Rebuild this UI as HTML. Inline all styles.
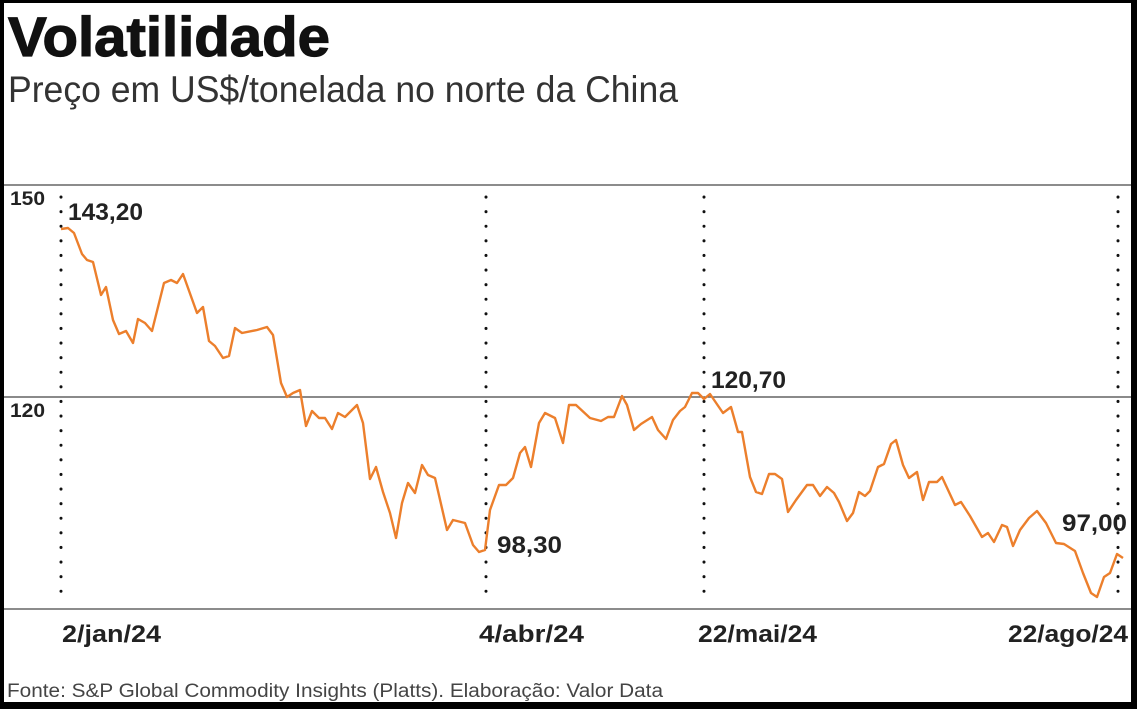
<!DOCTYPE html>
<html><head><meta charset="utf-8"><style>
html,body{margin:0;padding:0;background:#000;}
#c{position:absolute;left:4px;top:3px;width:1127px;height:699px;background:#fff;overflow:hidden;}
</style></head><body>
<div id="c"></div>
<svg width="1137" height="709" style="position:absolute;left:0;top:0" xmlns="http://www.w3.org/2000/svg">
<g font-family="Liberation Sans, sans-serif">
<text x="8" y="56" font-size="56" font-weight="bold" fill="#111" textLength="322" lengthAdjust="spacingAndGlyphs" stroke="#111" stroke-width="1.2">Volatilidade</text>
<text x="8" y="102" font-size="37" fill="#333" textLength="670" lengthAdjust="spacingAndGlyphs">Preço em US$/tonelada no norte da China</text>
<line x1="4" y1="185" x2="1131" y2="185" stroke="#666" stroke-width="1.5"/>
<line x1="4" y1="397" x2="1131" y2="397" stroke="#444" stroke-width="1.2"/>
<line x1="4" y1="609" x2="1131" y2="609" stroke="#666" stroke-width="1.5"/>
<g stroke="#111" stroke-width="3" stroke-dasharray="0.1 14.5" stroke-linecap="round">
<line x1="61" y1="197" x2="61" y2="605"/>
<line x1="486" y1="197" x2="486" y2="605"/>
<line x1="704" y1="197" x2="704" y2="605"/>
<line x1="1118" y1="197" x2="1118" y2="605"/>
</g>
<text x="10" y="205" font-size="19" font-weight="bold" fill="#222" textLength="35" lengthAdjust="spacingAndGlyphs">150</text>
<text x="10" y="417" font-size="19" font-weight="bold" fill="#222" textLength="35" lengthAdjust="spacingAndGlyphs">120</text>
<polyline fill="none" stroke="#ec7f2c" stroke-width="2.4" stroke-linejoin="round" points="61,229 68,228 74,233 82,254 87,260 93,262 101,295 106,287 113,320 119,334 126,331 133,343 138,319 145,323 152,331 164,283 171,280 177,283 183,274 197,313 203,307 209,341 215,346 223,358 229,356 235,328 242,333 257,330 267,327 273,335 281,383 287,397 293,393 300,390 306,426 312,411 319,418 325,418 332,429 338,413 345,417 357,405 363,423 370,479 376,467 383,492 390,513 396,538 402,503 408,483 415,493 422,465 428,475 435,478 447,530 453,520 465,523 473,545 479,552 485,550 490,510 499,485 506,485 513,478 520,453 525,447 531,467 539,423 545,413 555,418 563,443 569,405 576,405 590,418 601,421 608,417 614,417 622,396 627,405 634,430 641,424 652,417 658,430 666,439 673,420 680,411 685,407 692,393 698,393 704,399 710,394 723,413 731,407 738,432 742,432 750,477 756,492 762,494 769,474 775,474 782,479 788,512 796,500 807,485 813,485 820,496 827,487 834,493 839,502 847,521 853,513 859,492 865,496 870,491 878,467 884,464 891,444 896,440 903,465 909,478 917,472 923,500 929,482 937,482 942,477 955,505 961,502 970,516 982,537 988,533 994,542 1002,525 1007,527 1013,546 1020,530 1029,518 1037,511 1046,523 1056,543 1064,544 1075,551 1083,573 1091,593 1097,597 1104,577 1110,573 1117,554 1123,558"/>
<g font-size="24" font-weight="bold" fill="#222">
<text x="68" y="220" textLength="75" lengthAdjust="spacingAndGlyphs">143,20</text>
<text x="497" y="553" textLength="65" lengthAdjust="spacingAndGlyphs">98,30</text>
<text x="711" y="388" textLength="75" lengthAdjust="spacingAndGlyphs">120,70</text>
<text x="1062" y="531" textLength="65" lengthAdjust="spacingAndGlyphs">97,00</text>
<text x="62" y="642" textLength="99" lengthAdjust="spacingAndGlyphs">2/jan/24</text>
<text x="479" y="642" textLength="105" lengthAdjust="spacingAndGlyphs">4/abr/24</text>
<text x="698" y="642" textLength="119" lengthAdjust="spacingAndGlyphs">22/mai/24</text>
<text x="1008" y="642" textLength="120" lengthAdjust="spacingAndGlyphs">22/ago/24</text>
</g>
<text x="7" y="697" font-size="19" fill="#444" textLength="656" lengthAdjust="spacingAndGlyphs">Fonte: S&amp;P Global Commodity Insights (Platts). Elaboração: Valor Data</text>
</g>
</svg>
</body></html>
